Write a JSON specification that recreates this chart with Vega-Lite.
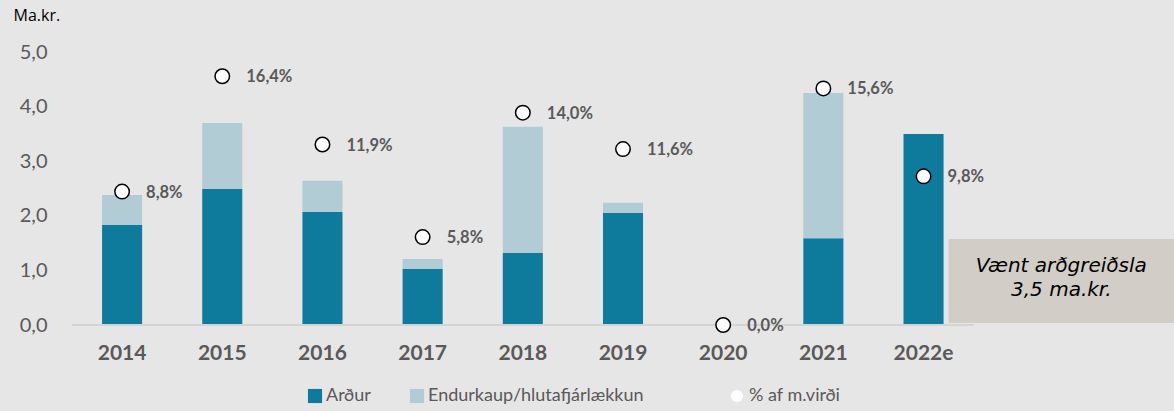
{
  "$schema": "https://vega.github.io/schema/vega-lite/v6.json",
  "width": 1102,
  "height": 273,
  "autosize": "none",
  "padding": {"left": 72, "top": 52, "right": 0, "bottom": 86},
  "background": "#e7e6e6",
  "config": {
    "view": {"stroke": null},
    "font": "Lato",
    "locale": {"number": {"decimal": ",", "thousands": ".", "grouping": [3], "currency": ["", " kr."]}}
  },
  "datasets": {
    "bars": [
      {"year": "2014", "type": "Arður", "value": 1.83},
      {"year": "2014", "type": "Endurkaup/hlutafjárlækkun", "value": 0.55},
      {"year": "2015", "type": "Arður", "value": 2.49},
      {"year": "2015", "type": "Endurkaup/hlutafjárlækkun", "value": 1.21},
      {"year": "2016", "type": "Arður", "value": 2.07},
      {"year": "2016", "type": "Endurkaup/hlutafjárlækkun", "value": 0.57},
      {"year": "2017", "type": "Arður", "value": 1.03},
      {"year": "2017", "type": "Endurkaup/hlutafjárlækkun", "value": 0.18},
      {"year": "2018", "type": "Arður", "value": 1.32},
      {"year": "2018", "type": "Endurkaup/hlutafjárlækkun", "value": 2.31},
      {"year": "2019", "type": "Arður", "value": 2.05},
      {"year": "2019", "type": "Endurkaup/hlutafjárlækkun", "value": 0.19},
      {"year": "2020", "type": "Arður", "value": 0},
      {"year": "2020", "type": "Endurkaup/hlutafjárlækkun", "value": 0},
      {"year": "2021", "type": "Arður", "value": 1.59},
      {"year": "2021", "type": "Endurkaup/hlutafjárlækkun", "value": 2.66},
      {"year": "2022e", "type": "Arður", "value": 3.5},
      {"year": "2022e", "type": "Endurkaup/hlutafjárlækkun", "value": 0}
    ],
    "pct": [
      {"year": "2014", "pct": 0.088},
      {"year": "2015", "pct": 0.164},
      {"year": "2016", "pct": 0.119},
      {"year": "2017", "pct": 0.058},
      {"year": "2018", "pct": 0.14},
      {"year": "2019", "pct": 0.116},
      {"year": "2020", "pct": 0.0},
      {"year": "2021", "pct": 0.156},
      {"year": "2022e", "pct": 0.098}
    ],
    "note": [
      {"from": "2022e", "to": "e2", "mid": "e1", "line1": "Vænt arðgreiðsla", "line2": "3,5 ma.kr."}
    ],
    "base": [
      {"from": "2014", "to": "2022e"}
    ]
  },
  "layer": [
    {
      "layer": [
        {
          "data": {"name": "bars"},
          "mark": {"type": "bar", "width": {"band": 0.4}},
          "encoding": {
            "x": {
              "field": "year", "type": "nominal", "title": null,
              "scale": {"domain": ["2014","2015","2016","2017","2018","2019","2020","2021","2022e","e1","e2"], "paddingInner": 0, "paddingOuter": 0},
              "axis": {
                "labelExpr": "indexof(['e1','e2'], datum.value) >= 0 ? '' : datum.value",
                "labelFont": "Lato", "labelFontSize": 21, "labelFontWeight": "bold", "labelColor": "#595959",
                "ticks": false, "domain": false, "labelPadding": 17, "labelAngle": 0, "grid": false
              }
            },
            "y": {
              "field": "value", "type": "quantitative", "stack": "zero",
              "scale": {"domain": [0, 5]},
              "axis": {
                "title": "Ma.kr.", "values": [0, 1, 2, 3, 4, 5], "format": ".1f",
                "grid": false, "domain": false, "ticks": false,
                "labelFont": "Lato", "labelFontSize": 20, "labelColor": "#595959", "labelPadding": 25,
                "titleAngle": 0, "titleAlign": "left", "titleBaseline": "top", "titleX": -59, "titleY": -45,
                "titleFont": "Open Sans", "titleFontSize": 16, "titleFontWeight": "normal", "titleColor": "#000000"
              }
            },
            "order": {"field": "type", "sort": "ascending"},
            "color": {
              "field": "type", "type": "nominal",
              "scale": {"domain": ["Arður", "Endurkaup/hlutafjárlækkun"], "range": ["#0f7b9c", "#b1ccd5"]},
              "legend": {
                "orient": "none", "legendX": 234, "legendY": 335, "direction": "horizontal", "title": null,
                "labelFont": "Lato", "labelFontSize": 18, "labelColor": "#595959", "labelLimit": 0,
                "symbolType": "square", "symbolSize": 200, "symbolStrokeWidth": 0, "columnPadding": 37, "labelOffset": 2
              }
            }
          }
        },
        {
          "data": {"name": "base"},
          "mark": {"type": "rule", "color": "#d4d4d4", "strokeWidth": 2},
          "encoding": {
            "x": {"field": "from", "type": "nominal", "bandPosition": 0, "title": null},
            "x2": {"field": "to", "bandPosition": 1},
            "y": {"datum": 0}
          }
        },
        {
          "data": {"name": "note"},
          "mark": {"type": "rect", "color": "#d2cec7"},
          "encoding": {
            "x": {"field": "from", "type": "nominal", "bandPosition": 0.75, "title": null},
            "x2": {"field": "to", "bandPosition": 1},
            "y": {"datum": 0.035},
            "y2": {"datum": 1.575}
          }
        },
        {
          "data": {"name": "note"},
          "mark": {"type": "text", "fontStyle": "italic", "fontSize": 20, "font": "DejaVu Sans", "color": "#000000", "align": "center", "baseline": "middle"},
          "encoding": {
            "x": {"field": "mid", "type": "nominal", "bandPosition": 0.875, "title": null},
            "y": {"datum": 1.08},
            "text": {"field": "line1"}
          }
        },
        {
          "data": {"name": "note"},
          "mark": {"type": "text", "fontStyle": "italic", "fontSize": 20, "font": "DejaVu Sans", "color": "#000000", "align": "center", "baseline": "middle"},
          "encoding": {
            "x": {"field": "mid", "type": "nominal", "bandPosition": 0.875, "title": null},
            "y": {"datum": 0.635},
            "text": {"field": "line2"}
          }
        }
      ]
    },
    {
      "data": {"name": "pct"},
      "layer": [
        {
          "mark": {"type": "point", "filled": false, "fill": "#ffffff", "fillOpacity": 1, "size": 210, "stroke": "#000000", "strokeWidth": 1.5, "opacity": 1},
          "encoding": {
            "x": {"field": "year", "type": "nominal", "title": null},
            "y": {"field": "pct", "type": "quantitative", "scale": {"domain": [0, 0.18]}, "axis": null},
            "shape": {
              "datum": "% af m.virði", "type": "nominal",
              "scale": {"domain": ["% af m.virði"], "range": ["circle"]},
              "legend": {
                "orient": "none", "legendX": 656, "legendY": 335, "direction": "horizontal", "title": null,
                "labelFont": "Lato", "labelFontSize": 18, "labelColor": "#595959", "labelLimit": 0,
                "symbolSize": 150, "symbolFillColor": "#ffffff", "symbolStrokeColor": "#000000", "symbolStrokeWidth": 1.5, "labelOffset": 3,
                "encode": {
                  "symbols": {
                    "update": {
                      "stroke": {"value": "#000000"},
                      "strokeWidth": {"value": 1.5},
                      "fill": {"value": "#ffffff"},
                      "opacity": {"value": 1}
                    }
                  }
                }
              }
            }
          }
        },
        {
          "mark": {"type": "text", "align": "left", "baseline": "middle", "dx": 24, "dy": 1, "fontSize": 16.5, "fontWeight": "bold", "font": "Lato", "color": "#595959"},
          "encoding": {
            "x": {"field": "year", "type": "nominal", "title": null},
            "y": {"field": "pct", "type": "quantitative", "scale": {"domain": [0, 0.18]}, "axis": null},
            "text": {"field": "pct", "type": "quantitative", "format": ".1%"}
          }
        }
      ]
    }
  ],
  "resolve": {"scale": {"y": "independent"}}
}
